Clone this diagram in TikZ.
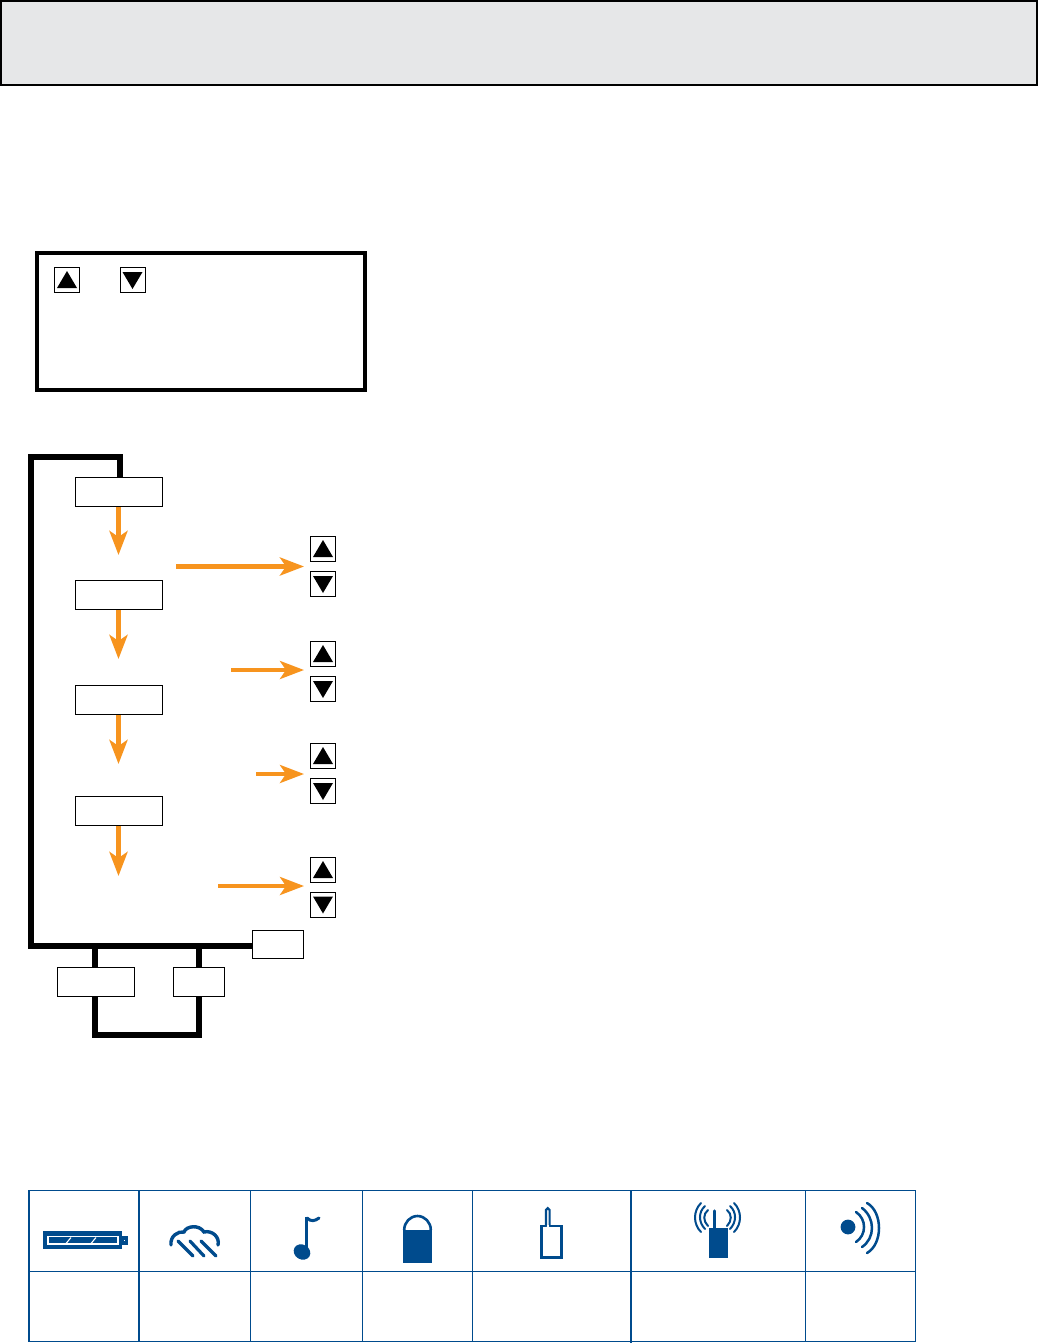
\documentclass[tikz,border=0pt]{standalone}
\usetikzlibrary{arrows.meta}
\definecolor{hdr}{HTML}{E6E7E8}
\definecolor{flow}{HTML}{F7941E}
\definecolor{tbl}{HTML}{004B8D}
\tikzset{
  x=1pt,y=-1pt,
  hdrbox/.style={draw=black,fill=hdr,line width=2pt,inner sep=0,minimum width=1036pt,minimum height=84pt},
  frame/.style={draw=black,line width=4pt,inner sep=0,minimum width=328pt,minimum height=137pt},
  flowbox/.style={draw=black,fill=white,line width=1.3pt,inner sep=0,minimum width=86.5pt,minimum height=28.5pt},
  keybox/.style={draw=black,fill=white,line width=1pt,inner sep=0,minimum width=25pt,minimum height=25pt},
  loopline/.style={draw=black,line width=6pt,line cap=butt,line join=miter},
  flowarrow/.style={draw=flow,line width=5pt,-{Stealth[length=24pt,width=18pt,inset=6pt,fill=flow]}},
  flowarrowthin/.style={flowarrow,line width=4pt},
  tblthin/.style={draw=tbl,line width=1.2pt},
  tblthick/.style={draw=tbl,line width=1.9pt},
  ico/.style={draw=tbl,line width=2.6pt,line cap=round,fill=none},
  arc1/.style={draw=tbl,line width=2pt,line cap=round},
  upkey/.pic={\fill[black] (0,-9) -- (10,8) -- (-10,8) -- cycle;},
  downkey/.pic={\fill[black] (0,9) -- (10,-8) -- (-10,-8) -- cycle;},
}
\begin{document}
\begin{tikzpicture}
\useasboundingbox (0,0) rectangle (1038,1343);
\fill[white] (0,0) rectangle (1038,1343);
% header and frame
\node[hdrbox] (header) at (519,43) {};
\node[frame] (legend) at (201,321.5) {};
\node[keybox] (lkup) at (67,280) {};
\node[keybox] (lkdn) at (132.5,280) {};
\pic at (lkup.center) {upkey};
\pic at (lkdn.center) {downkey};
% flow boxes
\node[flowbox] (b1) at (119,492) {};
\node[flowbox] (b2) at (119,595) {};
\node[flowbox] (b3) at (119,700) {};
\node[flowbox] (b4) at (119,811) {};
\node[flowbox,minimum width=51pt,minimum height=28pt] (bexit) at (278,944.5) {};
\node[flowbox,minimum width=77pt] (bl) at (96,982) {};
\node[flowbox,minimum width=51pt] (br) at (199,982) {};
% keys
\foreach \n/\ya/\yb in {1/549/584,2/654/689,3/756/791,4/870/904.5}{
  \node[keybox] (u\n) at (323,\ya) {};
  \node[keybox] (d\n) at (323,\yb) {};
  \pic at (u\n.center) {upkey};
  \pic at (d\n.center) {downkey};
}
% loop lines
\coordinate (c0) at (120,457);
\coordinate (c1) at (31,457);
\coordinate (c2) at (31,946);
\coordinate (j1) at (95,946);
\coordinate (j2) at (199,946);
\coordinate (j3) at (95,1035);
\coordinate (j4) at (199,1035);
\draw[loopline] (c0 |- b1.north) -- (c0) -- (c1) -- (c2) -- (c2 -| bexit.west);
\draw[loopline] (j1) -- (j1 |- bl.north);
\draw[loopline] (j2) -- (br.north);
\draw[loopline] (j1 |- bl.south) -- (j3) -- (j4) -- (br.south);
% orange arrows
\coordinate (t1) at (118.5,555);
\coordinate (t2) at (118.5,659);
\coordinate (t3) at (118.5,764);
\coordinate (t4) at (118.5,876);
\draw[flowarrow] (b1.south -| t1) -- (t1);
\draw[flowarrow] (b2.south -| t2) -- (t2);
\draw[flowarrow] (b3.south -| t3) -- (t3);
\draw[flowarrow] (b4.south -| t4) -- (t4);
\coordinate (s5) at (176,566.5); \coordinate (t5) at (304,566.5);
\coordinate (s6) at (231,670);   \coordinate (t6) at (304,670);
\coordinate (s7) at (256,774);   \coordinate (t7) at (304,774);
\coordinate (s8) at (218,886);   \coordinate (t8) at (304,886);
\draw[flowarrow] (s5) -- (t5);
\draw[flowarrowthin] (s6) -- (t6);
\draw[flowarrowthin] (s7) -- (t7);
\draw[flowarrowthin] (s8) -- (t8);
% table
\draw[tblthick] (28,1190.5) -- (916,1190.5);
\draw[tblthin] (29,1271.5) -- (915.5,1271.5);
\draw[tblthin] (29,1341.5) -- (915.5,1341.5);
\draw[tblthick] (29,1190) -- (29,1342);
\draw[tblthick] (139,1190) -- (139,1342);
\draw[tblthick] (631,1190) -- (631,1343);
\foreach \x in {250.5,362.5,472.5,805.5,915.5}{\draw[tblthin] (\x,1190) -- (\x,1342);}
% battery
\fill[tbl] (42.5,1231) rectangle (122,1249);
\fill[white] (47,1235.8) rectangle (119,1245);
\fill[tbl] (49,1237.4) rectangle (116.5,1243.4);
\draw[white,line width=1.1pt] (66,1243.5) -- (71,1237.5);
\draw[white,line width=1.1pt] (91,1243.5) -- (96,1237.5);
\fill[tbl] (122,1236) rectangle (127.5,1245);
\fill[white] (123.5,1239.9) rectangle (125,1241.2);
% cloud
\draw[ico,line width=3.4pt] (171,1245) .. controls (170,1236) and (178,1231) .. (184,1232) .. controls (186,1226) and (199,1224) .. (204,1232) .. controls (212,1230) and (220,1237) .. (218,1245);
\draw[ico,line width=3.2pt] (178,1241) -- (193,1256);
\draw[ico,line width=3.2pt] (190,1241) -- (204,1256);
\draw[ico,line width=3.2pt] (201,1241) -- (216,1256);
% note
\fill[tbl,rotate around={-30:(302,1252)}] (302,1252) ellipse (8.6 and 7.4);
\fill[tbl] (304.8,1217) rectangle (308.4,1252);
\draw[ico,line width=3pt] (307,1218) .. controls (311,1222) and (315,1221) .. (319,1218);
% lock
\fill[tbl] (403,1230) rectangle (432,1263);
\draw[ico,line width=2.6pt,line cap=butt] (404.2,1230) arc[start angle=180,delta angle=180,x radius=13.3pt,y radius=-14pt];
% radio outline
\draw[ico,line width=2.4pt,line cap=butt,line join=miter] (541.5,1226) rectangle (561.5,1257.5);
\draw[draw=tbl,line width=2.2pt,fill=white] (546,1226) -- (546,1210) arc[start angle=180,delta angle=180,x radius=1.8pt,y radius=-1.8pt] -- (549.6,1226);
\fill[white] (547.1,1225) rectangle (548.5,1228);
% radio solid
\fill[tbl] (709,1228) rectangle (728,1258);
\draw[ico,line width=3.4pt] (714.5,1211) -- (714.5,1228);
\draw[arc1] (701,1232) .. controls (693,1224) and (693,1211) .. (701,1203);
\draw[arc1] (705,1229) .. controls (698.3,1222) and (698.3,1212) .. (705,1206);
\draw[arc1] (708,1226) .. controls (703,1221) and (703,1214) .. (708,1210);
\draw[arc1] (734,1232) .. controls (742,1224) and (742,1211) .. (734,1203);
\draw[arc1] (730,1229) .. controls (736.7,1222) and (736.7,1212) .. (730,1206);
\draw[arc1] (727,1226) .. controls (732,1221) and (732,1214) .. (727,1210);
% speaker
\fill[tbl] (848,1227) circle (7.4);
\draw[ico,line width=2.5pt] (856,1212) .. controls (866.7,1219) and (866.7,1235) .. (856,1242);
\draw[ico,line width=2.5pt] (862,1208) .. controls (875.3,1218) and (875.3,1238) .. (862,1247);
\draw[ico,line width=2.5pt] (867,1203) .. controls (883,1212) and (883,1244) .. (867,1253);
\end{tikzpicture}
\end{document}
